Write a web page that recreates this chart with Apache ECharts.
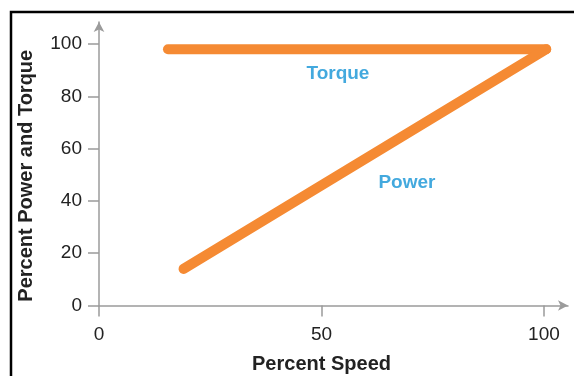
<!DOCTYPE html>
<html>
<head>
<meta charset="utf-8">
<script src="https://cdn.jsdelivr.net/npm/echarts@6/dist/echarts.min.js"></script>
<style>
html,body{margin:0;padding:0;background:#fff;}
#c{width:574px;height:376px;}
</style>
</head>
<body>
<div id="c"></div>
<script>
// Data
var torquePoints = [[15.5, 98], [100.5, 98]];
var powerPoints = [[19, 14], [100.5, 98]];
var xTicks = [0, 50, 100];
var yTicks = [0, 20, 40, 60, 80, 100];
var seriesLabels = [[53.7, 88.5, 'Torque'], [69.2, 46.8, 'Power']];

var orange = '#f58a33';
var blue = '#1494d6';
var axisGray = '#9b9b9b';
var textCol = '#222222';
var fontFam = '"Liberation Sans", Arial, Helvetica, sans-serif';

var chart = echarts.init(document.getElementById('c'), null, {renderer: 'canvas'});
chart.setOption({
  animation: false,
  backgroundColor: '#fff',
  grid: {left: 99, right: 574 - 568, top: 22, bottom: 376 - 305.5, containLabel: false, outerBoundsMode: 'none'},
  xAxis: {
    type: 'value', min: 0, max: 105.4,
    name: 'Percent Speed', nameLocation: 'middle', nameGap: 49,
    nameTextStyle: {fontFamily: fontFam, fontSize: 20, fontWeight: 'bold', color: textCol, padding: [0, 24, 0, 0]},
    axisLine: {show: true, lineStyle: {color: axisGray, width: 1.5}, symbol: ['none', 'arrow'], symbolSize: [8, 10]},
    axisTick: {show: true, length: 11, lineStyle: {color: axisGray, width: 1.5}, customValues: xTicks},
    axisLabel: {show: true, margin: 20, fontFamily: fontFam, fontSize: 19, color: textCol, customValues: xTicks},
    splitLine: {show: false}
  },
  yAxis: {
    type: 'value', min: 0, max: 108.4,
    name: 'Percent Power and Torque', nameLocation: 'middle', nameGap: 63,
    nameTextStyle: {fontFamily: fontFam, fontSize: 20, fontWeight: 'bold', color: textCol, padding: [0, 24, 0, 0]},
    axisLine: {show: true, lineStyle: {color: axisGray, width: 1.5}, symbol: ['none', 'arrow'], symbolSize: [8, 10]},
    axisTick: {show: true, length: 11, lineStyle: {color: axisGray, width: 1.5}, customValues: yTicks},
    axisLabel: {show: true, margin: 17, fontFamily: fontFam, fontSize: 19, color: textCol, customValues: yTicks},
    splitLine: {show: false}
  },
  series: [
    {type: 'line', name: 'Torque', data: torquePoints, showSymbol: false, symbol: 'none',
     lineStyle: {color: orange, width: 10, cap: 'round', join: 'round'}},
    {type: 'line', name: 'Power', data: powerPoints, showSymbol: false, symbol: 'none',
     lineStyle: {color: orange, width: 10, cap: 'round', join: 'round'}},
    {type: 'scatter', data: seriesLabels, symbolSize: 0,
     label: {show: true, position: 'inside', formatter: function(p){return p.data[2];},
             fontFamily: fontFam, fontSize: 19, fontWeight: 'bold', color: blue}}
  ],
  graphic: [
    {type: 'polyline', shape: {points: [[11, 376], [11, 12], [574, 12]]}, style: {stroke: '#000', lineWidth: 2.5, fill: null}}
  ]
});
</script>
</body>
</html>
